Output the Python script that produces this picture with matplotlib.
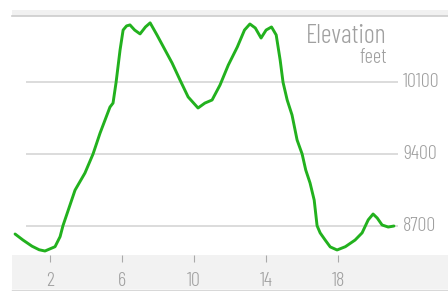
import matplotlib
matplotlib.use("Agg")
import matplotlib.pyplot as plt
from matplotlib.patches import Rectangle
from matplotlib.lines import Line2D

# distance (miles) vs elevation (feet)
miles = [0.06, 0.5, 1.0, 1.4, 1.72, 2.28, 2.56, 2.72, 3.39, 3.94, 4.39, 4.78,
         5.33, 5.5, 5.67, 5.89, 6.06, 6.25, 6.44, 6.7, 7.0, 7.3, 7.56, 7.94,
         8.39, 8.78, 9.22, 9.67, 10.22, 10.6, 11.0, 11.44, 11.9, 12.4, 12.8,
         13.1, 13.4, 13.72, 14.0, 14.3, 14.56, 14.78, 14.94, 15.17, 15.44,
         15.72, 16.0, 16.2, 16.44, 16.67, 16.83, 17.0, 17.28, 17.56, 17.94,
         18.4, 18.94, 19.33, 19.67, 19.94, 20.17, 20.44, 20.78, 21.1]
elevation = [8619, 8560, 8500, 8465, 8453, 8495, 8593, 8700, 9047, 9214, 9400,
             9604, 9858, 9897, 10100, 10415, 10610, 10650, 10660, 10610, 10572,
             10640, 10680, 10562, 10415, 10288, 10122, 9957, 9849, 9897, 9927,
             10073, 10268, 10444, 10610, 10669, 10630, 10532, 10610, 10640,
             10562, 10317, 10100, 9927, 9780, 9537, 9400, 9244, 9117, 8950,
             8700, 8630, 8560, 8493, 8463, 8495, 8560, 8630, 8757, 8814, 8775,
             8707, 8687, 8697]

x_ticks = [2, 6, 10, 14, 18]
y_ticks = [8700, 9400, 10100]

grey_txt = "#a0a0a0"
green = "#22b11e"
plt.rcParams["font.family"] = ["Barlow Condensed", "DejaVu Sans"]
plt.rcParams["font.weight"] = 300

W, H = 448, 291
fig = plt.figure(figsize=(W / 100, H / 100), dpi=100)

# top strip and bottom axis band (behind the axes)
fig.add_artist(Rectangle((12 / W, 1 - 16 / H), 1, 6 / H, transform=fig.transFigure,
                         facecolor="#f1f1f1", edgecolor="none", zorder=-2))
fig.add_artist(Line2D([12 / W, 1], [1 - 15.5 / H] * 2, transform=fig.transFigure,
                      color="#cccccc", lw=1.2, zorder=-1))
fig.add_artist(Rectangle((12 / W, 2 / H), 1, 34 / H, transform=fig.transFigure,
                         facecolor="#f2f2f2", edgecolor="none", zorder=-2))
fig.add_artist(Line2D([12 / W, 1], [1.5 / H] * 2, transform=fig.transFigure,
                      color="#d8d8d8", lw=1, zorder=-1))

ax = fig.add_axes([12 / W, 36 / H, 436 / W, (255 - 16) / H])
ax.patch.set_alpha(0)
ax.set_xlim(-0.11, 24.1)
ax.set_ylim(8414, 10747)
for s in ax.spines.values():
    s.set_visible(False)

for v in y_ticks:
    ax.hlines(v, 0.67, 21.3, color="#d2d2d2", lw=1.1, zorder=1)
    ax.text(21.6, v, str(v), color=grey_txt, fontsize=14.5, va="center", ha="left")

ax.plot(miles, elevation, color=green, lw=2.1, zorder=3,
        solid_capstyle="round", solid_joinstyle="round")

ax.text(20.7, 10483, "Elevation", color=grey_txt, fontsize=19, ha="right", va="baseline")
ax.text(20.7, 10288, "feet", color=grey_txt, fontsize=15, ha="right", va="baseline")

ax.set_yticks([])
ax.set_xticks(x_ticks)
ax.set_xticklabels([str(t) for t in x_ticks])
ax.tick_params(axis="x", direction="out", length=5, width=0.8, color="#aaaaaa",
               labelcolor=grey_txt, labelsize=14.5, pad=7)

fig.savefig("out.png", dpi=100)
